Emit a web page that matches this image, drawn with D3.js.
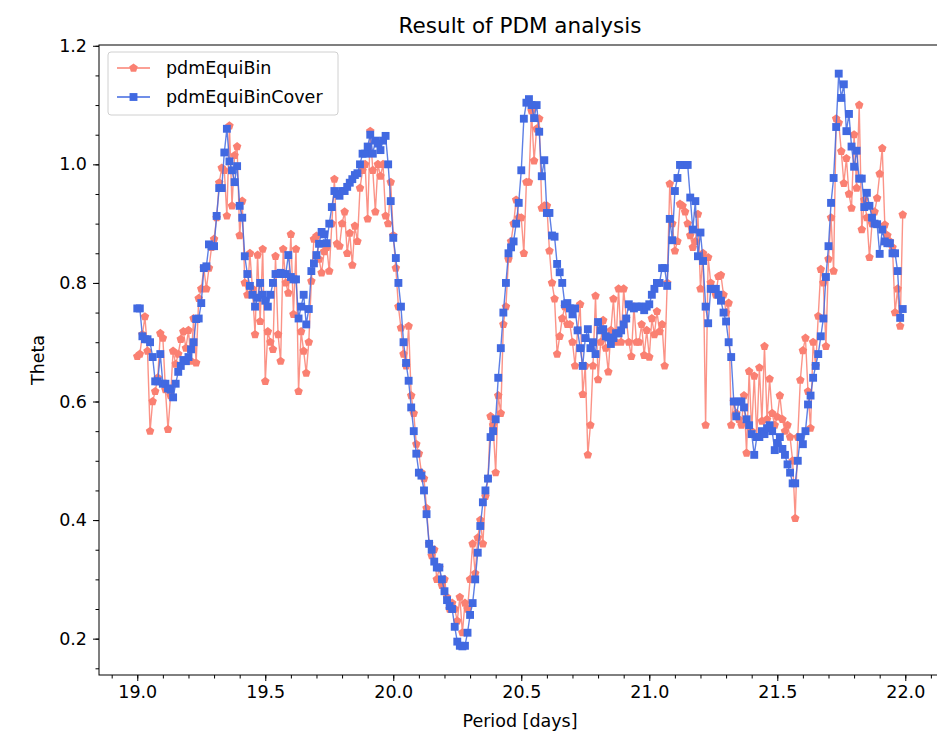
<!DOCTYPE html>
<html>
<head>
<meta charset="utf-8">
<script src="https://cdn.jsdelivr.net/npm/d3@7"></script>
<style>
body { margin: 0; background: #fff; }
svg { display: block; overflow: hidden; }
text { font-family: "DejaVu Sans", sans-serif; fill: #000; }
</style>
</head>
<body>
<script>
// trial periods, one every 0.01 d from 19.00
var periodStart = 19.0, periodStep = 0.01;

var equiBin = [
  0.676, 0.68, 0.713, 0.743, 0.685, 0.55, 0.60, 0.617, 0.64, 0.715,
  0.707, 0.62, 0.553, 0.61, 0.685, 0.663, 0.68, 0.705, 0.718, 0.69,
  0.72, 0.668, 0.74, 0.665, 0.774, 0.79, 0.825, 0.79, 0.825, 0.86,
  0.874, 0.91, 0.969, 0.994, 0.99, 0.913, 1.065, 0.93, 1.015, 1.03,
  0.88, 0.938, 0.80, 0.78, 0.85, 0.79, 0.713, 0.847, 0.735, 0.857,
  0.634, 0.718, 0.70, 0.688, 0.845, 0.713, 0.668, 0.857, 0.80, 0.783,
  0.882, 0.747, 0.857, 0.617, 0.718, 0.685, 0.648, 0.70, 0.803, 0.874,
  0.879, 0.84, 0.817, 0.853, 0.86, 0.82, 0.90, 0.975, 0.866, 0.862,
  0.90, 0.92, 0.85, 0.884, 0.83, 0.896, 0.87, 0.96, 0.99, 1.0,
  0.908, 1.056, 0.99, 0.92, 1.0, 0.98, 1.0, 0.913, 0.90, 0.97,
  0.88, 0.825, 0.76, 0.724, 0.68, 0.66, 0.727, 0.61, 0.58, 0.528,
  0.512, 0.48, 0.47, 0.42, 0.36, 0.34, 0.35, 0.30, 0.32, 0.29,
  0.30, 0.27, 0.25, 0.26, 0.25, 0.23, 0.27, 0.21, 0.26, 0.25,
  0.30, 0.36, 0.31, 0.37, 0.40, 0.36, 0.44, 0.47, 0.575, 0.56,
  0.48, 0.61, 0.58, 0.73, 0.76, 0.84, 0.87, 0.90, 0.94, 0.91,
  0.91, 0.85, 0.97, 0.97, 1.09, 1.006, 1.06, 1.077, 0.926, 0.93,
  0.93, 0.854, 0.80, 0.773, 0.68, 0.71, 0.74, 0.76, 0.73, 0.73,
  0.70, 0.66, 0.72, 0.764, 0.612, 0.66, 0.51, 0.56, 0.66, 0.778,
  0.637, 0.70, 0.737, 0.69, 0.65, 0.72, 0.773, 0.70, 0.79, 0.70,
  0.79, 0.74, 0.70, 0.676, 0.76, 0.70, 0.70, 0.73, 0.678, 0.72,
  0.675, 0.74, 0.713, 0.752, 0.718, 0.73, 0.66, 0.80, 0.967, 0.90,
  0.854, 0.87, 0.933, 0.93, 0.92, 0.90, 0.88, 0.86, 0.87, 0.916,
  0.79, 0.85, 0.56, 0.843, 0.80, 0.79, 0.78, 0.811, 0.813, 0.78,
  0.75, 0.766, 0.56, 0.60, 0.58, 0.57, 0.56, 0.61, 0.513, 0.651,
  0.55, 0.643, 0.54, 0.657, 0.567, 0.693, 0.57, 0.638, 0.58, 0.56,
  0.574, 0.61, 0.57, 0.55, 0.56, 0.54, 0.50, 0.403, 0.54, 0.636,
  0.686, 0.707, 0.617, 0.555, 0.70, 0.66, 0.744, 0.823, 0.80, 0.693,
  0.84, 0.91, 0.82, 1.077, 1.07, 1.022, 0.968, 1.01, 0.95, 0.926,
  1.05, 0.96, 1.10, 0.89, 0.94, 0.91, 0.843, 0.90, 0.92, 0.943,
  0.984, 1.027, 0.898, 0.88, 0.87, 0.86, 0.75, 0.79, 0.727, 0.915
];

var equiBinCover = [
  0.757, 0.757, 0.71, 0.705, 0.705, 0.70, 0.675, 0.634, 0.634, 0.68,
  0.63, 0.63, 0.622, 0.62, 0.607, 0.63, 0.65, 0.66, 0.67, 0.668,
  0.675, 0.688, 0.70, 0.739, 0.74, 0.766, 0.825, 0.828, 0.865, 0.862,
  0.862, 0.913, 0.96, 0.96, 1.02, 1.06, 1.005, 0.99, 0.97, 0.997,
  0.93, 0.91, 0.845, 0.815, 0.795, 0.78, 0.76, 0.775, 0.80, 0.78,
  0.77, 0.76, 0.78, 0.80, 0.815, 0.815, 0.817, 0.815, 0.815, 0.847,
  0.81, 0.806, 0.806, 0.74, 0.76, 0.78, 0.73, 0.756, 0.82, 0.833,
  0.847, 0.866, 0.886, 0.882, 0.867, 0.90, 0.928, 0.955, 0.95, 0.947,
  0.955, 0.955, 0.962, 0.969, 0.975, 0.982, 0.985, 1.00, 1.018, 1.018,
  1.03, 1.05, 1.018, 1.04, 1.035, 1.024, 1.04, 1.048, 1.00, 0.938,
  0.876, 0.842, 0.80, 0.76, 0.70, 0.665, 0.635, 0.59, 0.55, 0.512,
  0.48, 0.475, 0.45, 0.41, 0.36, 0.35, 0.33, 0.32, 0.32, 0.30,
  0.28, 0.265, 0.255, 0.25, 0.22, 0.195, 0.188, 0.187, 0.188, 0.21,
  0.24, 0.26, 0.30, 0.345, 0.39, 0.43, 0.45, 0.47, 0.54, 0.55,
  0.57, 0.64, 0.69, 0.75, 0.80, 0.85, 0.86, 0.87, 0.90, 0.935,
  0.99, 1.077, 1.104, 1.11, 1.10, 1.078, 1.10, 1.055, 0.98, 1.007,
  0.918, 0.918, 0.88, 0.878, 0.832, 0.818, 0.80, 0.764, 0.766, 0.757,
  0.747, 0.757, 0.72, 0.69, 0.66, 0.707, 0.722, 0.69, 0.70, 0.68,
  0.734, 0.72, 0.722, 0.71, 0.708, 0.697, 0.707, 0.715, 0.715, 0.72,
  0.73, 0.74, 0.764, 0.76, 0.757, 0.76, 0.76, 0.76, 0.754, 0.76,
  0.764, 0.78, 0.79, 0.80, 0.80, 0.825, 0.825, 0.795, 0.908, 0.872,
  0.955, 0.977, 0.999, 0.999, 0.999, 0.999, 0.944, 0.89, 0.938, 0.845,
  0.885, 0.837, 0.76, 0.732, 0.79, 0.79, 0.79, 0.78, 0.77, 0.75,
  0.735, 0.70, 0.675, 0.60, 0.575, 0.60, 0.60, 0.59, 0.57, 0.56,
  0.545, 0.51, 0.54, 0.54, 0.55, 0.545, 0.555, 0.56, 0.55, 0.518,
  0.53, 0.54, 0.52, 0.51, 0.494, 0.48, 0.462, 0.462, 0.50, 0.54,
  0.528, 0.55, 0.595, 0.61, 0.64, 0.66, 0.68, 0.71, 0.74, 0.81,
  0.862, 0.935, 0.977, 1.063, 1.153, 1.112, 1.135, 1.056, 1.085, 1.03,
  0.996, 1.023, 0.976, 0.976, 0.928, 0.952, 0.93, 0.91, 0.90, 0.899,
  0.849, 0.89, 0.87, 0.867, 0.867, 0.85, 0.85, 0.82, 0.741, 0.756
];

var xTicks = [19.0, 19.5, 20.0, 20.5, 21.0, 21.5, 22.0];
var yTicks = [0.2, 0.4, 0.6, 0.8, 1.0, 1.2];
var seriesNames = ["pdmEquiBin", "pdmEquiBinCover"];
var seriesColors = ["salmon", "royalblue"];

var fontSize = "17.5px";

var margin = {top: 45, right: -4, bottom: 57, left: 99};
var width = 937 - margin.left - margin.right,
    height = 732 - margin.top - margin.bottom;

var svg = d3.select("body").append("svg")
    .attr("width", 937)
    .attr("height", 732);

var g = svg.append("g")
    .attr("transform", "translate(" + margin.left + "," + margin.top + ")");

var periods = equiBin.map(function (d, i) {
    return +(periodStart + i * periodStep).toFixed(2);
});

var series = [equiBin, equiBinCover].map(function (vals, k) {
    return {
        name: seriesNames[k],
        color: seriesColors[k],
        points: vals.map(function (v, i) { return {p: periods[i], v: v}; })
    };
});

// matplotlib style 5% padding around the data
var xExt = d3.extent(periods);
var yExt = d3.extent(equiBin.concat(equiBinCover));
var xPad = (xExt[1] - xExt[0]) * 0.05, yPad = (yExt[1] - yExt[0]) * 0.05;

var x = d3.scaleLinear()
    .domain([xExt[0] - xPad, xExt[1] + xPad])
    .range([0, width]);

var y = d3.scaleLinear()
    .domain([yExt[0] - yPad, yExt[1] + yPad])
    .range([height, 0]);

var pentagon = {
    draw: function (context, size) {
        var r = Math.sqrt(size / 2.378);
        for (var k = 0; k < 5; k++) {
            var a = -Math.PI / 2 + k * 2 * Math.PI / 5;
            if (k === 0) context.moveTo(r * Math.cos(a), r * Math.sin(a));
            else context.lineTo(r * Math.cos(a), r * Math.sin(a));
        }
        context.closePath();
    }
};
var markerTypes = [d3.symbol().type(pentagon).size(48), d3.symbol().type(d3.symbolSquare).size(62)];

// axes
var xMinor = d3.range(188, 222).map(function (d) { return d / 10; })
    .filter(function (d) { return d >= x.domain()[0] && d <= x.domain()[1]; });
var yMinor = d3.range(2, 25).map(function (d) { return d / 20; })
    .filter(function (d) { return d >= y.domain()[0] && d <= y.domain()[1]; });

g.append("g")
    .attr("transform", "translate(0," + height + ")")
    .call(d3.axisBottom(x).tickValues(xMinor).tickSize(3.5).tickFormat(""))
    .call(function (s) { s.select(".domain").remove(); });

g.append("g")
    .attr("transform", "translate(0," + height + ")")
    .call(d3.axisBottom(x).tickValues(xTicks).tickSize(6).tickPadding(5).tickFormat(d3.format(".1f")))
    .call(function (s) {
        s.select(".domain").remove();
        s.selectAll("text").attr("font-size", fontSize).attr("fill", "#000");
    });

g.append("g")
    .call(d3.axisLeft(y).tickValues(yMinor).tickSize(3.5).tickFormat(""))
    .call(function (s) { s.select(".domain").remove(); });

g.append("g")
    .call(d3.axisLeft(y).tickValues(yTicks).tickSize(6).tickPadding(6).tickFormat(d3.format(".1f")))
    .call(function (s) {
        s.select(".domain").remove();
        s.selectAll("text").attr("font-size", fontSize).attr("fill", "#000");
    });

// series
var line = d3.line()
    .x(function (d) { return x(d.p); })
    .y(function (d) { return y(d.v); });

series.forEach(function (s, k) {
    g.append("path")
        .datum(s.points)
        .attr("fill", "none")
        .attr("stroke", s.color)
        .attr("stroke-opacity", 0.85)
        .attr("stroke-width", 1.4)
        .attr("d", line);

    g.append("g").selectAll("path")
        .data(s.points)
        .enter()
        .append("path")
        .attr("transform", function (d) { return "translate(" + x(d.p) + "," + y(d.v) + ")"; })
        .attr("d", markerTypes[k])
        .attr("fill", s.color);
});

// frame
g.append("rect")
    .attr("width", width)
    .attr("height", height)
    .attr("fill", "none")
    .attr("stroke", "#000")
    .attr("stroke-width", 1);

// legend
var legend = g.append("g").attr("transform", "translate(9,7)");
legend.append("rect")
    .attr("width", 230)
    .attr("height", 63)
    .attr("rx", 3)
    .attr("fill", "#fff")
    .attr("fill-opacity", 0.8)
    .attr("stroke", "#d0d0d0");

series.forEach(function (s, k) {
    var ly = 16 + k * 29;
    legend.append("line")
        .attr("x1", 9).attr("x2", 42)
        .attr("y1", ly).attr("y2", ly)
        .attr("stroke", s.color)
        .attr("stroke-width", 1.4);
    legend.append("path")
        .attr("transform", "translate(25.5," + ly + ")")
        .attr("d", markerTypes[k])
        .attr("fill", s.color);
    legend.append("text")
        .attr("x", 58)
        .attr("y", ly + 6)
        .attr("font-size", fontSize)
        .text(s.name);
});

// titles
svg.append("text")
    .attr("x", margin.left + width / 2)
    .attr("y", 33)
    .attr("text-anchor", "middle")
    .attr("font-size", "21.5px")
    .text("Result of PDM analysis");

svg.append("text")
    .attr("x", margin.left + width / 2)
    .attr("y", 727)
    .attr("text-anchor", "middle")
    .attr("font-size", fontSize)
    .text("Period [days]");

svg.append("text")
    .attr("transform", "translate(44," + (margin.top + height / 2) + ") rotate(-90)")
    .attr("text-anchor", "middle")
    .attr("font-size", fontSize)
    .text("Theta");
</script>
</body>
</html>
